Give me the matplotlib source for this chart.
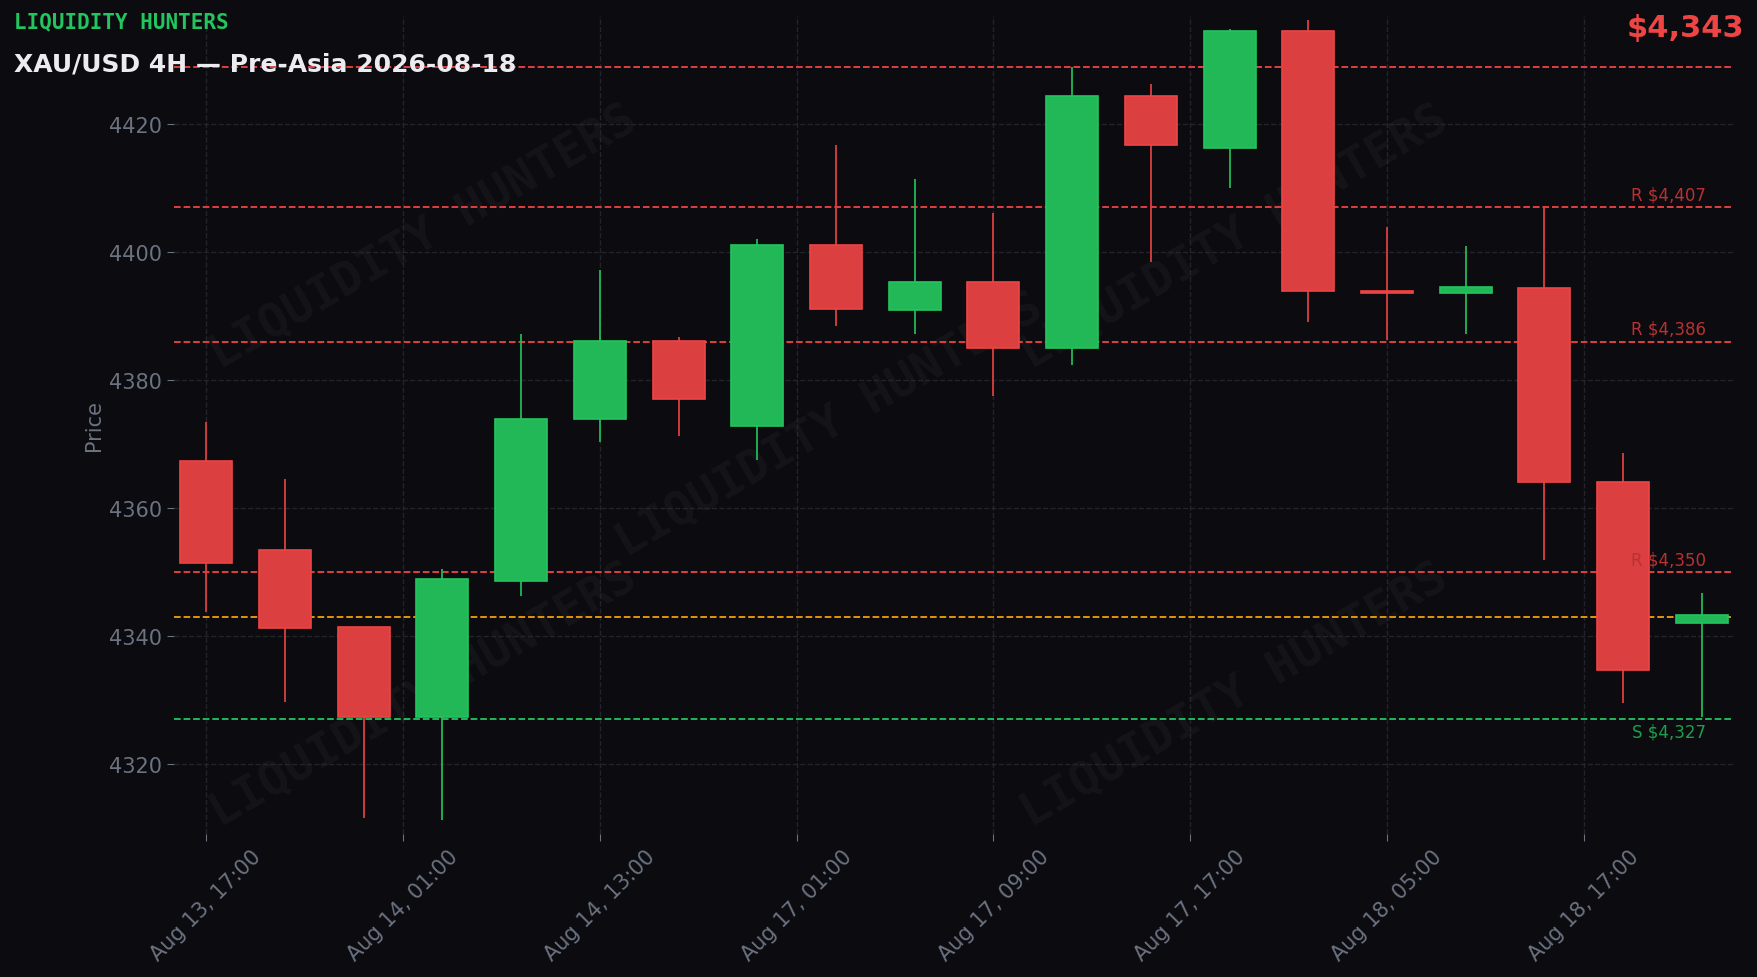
import matplotlib
matplotlib.use("Agg")
import matplotlib.pyplot as plt
from matplotlib.patches import Rectangle

opens  = [4367.4,4353.5,4341.4,4327.4,4348.6,4373.9,4386.1,4372.8,4401.1,4391.0,4395.3,4385.1,4424.4,4416.3,4434.6,4394.0,4393.6,4394.4,4364.0,4342.1]
closes = [4351.4,4341.2,4327.4,4348.9,4373.9,4386.1,4377.0,4401.1,4391.1,4395.3,4385.1,4424.4,4416.8,4434.6,4393.9,4393.6,4394.5,4364.0,4334.7,4343.3]
highs  = [4373.5,4364.6,4341.4,4350.4,4387.2,4397.2,4386.7,4402.1,4416.7,4411.4,4406.1,4428.9,4426.3,4434.9,4436.3,4403.9,4400.9,4407.2,4368.6,4346.7]
lows   = [4343.7,4329.6,4311.6,4311.2,4346.3,4370.4,4371.2,4367.5,4388.4,4387.2,4377.5,4382.3,4398.4,4410.0,4389.1,4386.3,4387.2,4351.9,4329.5,4327.4]
tick_pos = [0,2.5,5,7.5,10,12.5,15,17.5]
tick_labels = ["Aug 13, 17:00","Aug 14, 01:00","Aug 14, 13:00","Aug 17, 01:00",
               "Aug 17, 09:00","Aug 17, 17:00","Aug 18, 05:00","Aug 18, 17:00"]
res_levels = [4429, 4407, 4386, 4350]
res_labels = [None, "R $4,407", "R $4,386", "R $4,350"]
sup_level = 4327
last_price = 4343

BG = "#0b0b10"; GREEN = "#22b858"; RED = "#dc3f3f"; GRAY = "#6b7280"
fig = plt.figure(figsize=(17.58, 9.78), dpi=100, facecolor=BG)
ax = fig.add_axes([0.099, 0.146, 0.887, 0.837], facecolor=BG)

for i, (o, c, h, l) in enumerate(zip(opens, closes, highs, lows)):
    col = GREEN if c >= o else RED
    ax.vlines(i, l, h, color=col, lw=1.3, zorder=3)
    lo, hi = min(o, c), max(o, c)
    ax.add_patch(Rectangle((i - 0.33, lo), 0.66, max(hi - lo, 0.4), facecolor=col,
                           edgecolor="#ef4444" if col == RED else "#22c55e", lw=1.2, zorder=4))

for lvl, lab in zip(res_levels, res_labels):
    ax.axhline(lvl, color="#ef4444", ls="--", lw=1.3, zorder=2)
    if lab:
        ax.text(19.05, lvl + 0.6, lab, color="#b83232", fontsize=12, ha="right", va="bottom", zorder=5)
ax.axhline(sup_level, color="#22c55e", ls="--", lw=1.3, zorder=2)
ax.text(19.05, sup_level - 0.6, "S $4,327", color="#1e9e4c", fontsize=12, ha="right", va="top", zorder=5)
ax.axhline(last_price, color="#f59e0b", ls="--", lw=1.3, zorder=2)

for (x, y) in [(0.16, 0.73), (0.42, 0.50), (0.68, 0.73), (0.16, 0.17), (0.68, 0.17)]:
    ax.text(x, y, "LIQUIDITY HUNTERS", transform=ax.transAxes, fontsize=34, fontweight="bold",
            family="DejaVu Sans Mono", color="#ffffff", alpha=0.04, rotation=30,
            ha="center", va="center", zorder=1)

ax.set_xlim(-0.41, 19.4)
ax.set_ylim(4309, 4437)
ax.set_yticks([4320, 4340, 4360, 4380, 4400, 4420])
ax.set_xticks(tick_pos)
ax.set_xticklabels(tick_labels, rotation=45, ha="center")
ax.tick_params(colors=GRAY, labelsize=15, length=5)
ax.grid(True, color="#2a2a33", ls="--", lw=1, alpha=0.8)
for s in ax.spines.values():
    s.set_visible(False)
ax.set_ylabel("Price", color=GRAY, fontsize=15)

fig.text(0.008, 0.977, "LIQUIDITY HUNTERS", color="#22c55e", fontsize=15, fontweight="bold",
         family="DejaVu Sans Mono", ha="left", va="center")
fig.text(0.008, 0.934, "XAU/USD 4H — Pre-Asia 2026-08-18", color="#ececf0", fontsize=18,
         fontweight="bold", ha="left", va="center")
fig.text(0.992, 0.971, "$4,343", color="#ef4444", fontsize=22, fontweight="bold",
         ha="right", va="center")

fig.savefig("out.png", dpi=100, facecolor=BG)
